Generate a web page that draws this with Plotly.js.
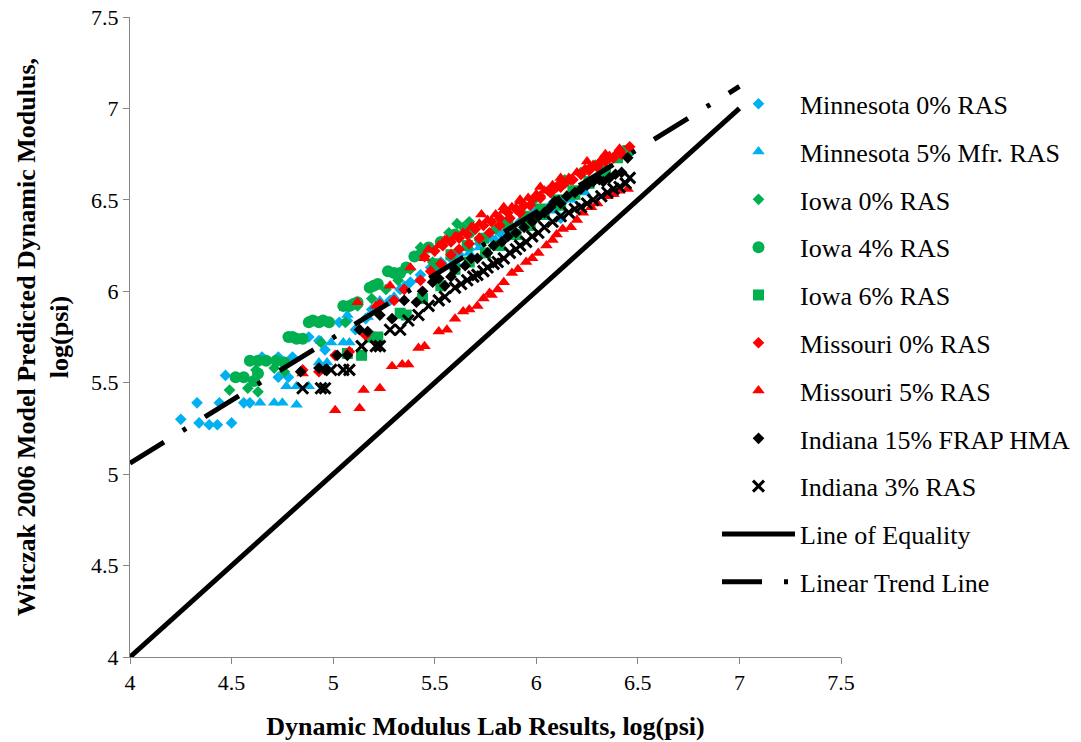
<!DOCTYPE html>
<html>
<head>
<meta charset="utf-8">
<script src="https://cdn.plot.ly/plotly-3.0.1.min.js"></script>
<style>html,body{margin:0;padding:0;background:#fff;}#chart{width:1081px;height:742px;}</style>
</head>
<body>
<div id="chart"></div>
<script>
// ---- Data ----
const seriesNames = ["Minnesota 0% RAS","Minnesota 5% Mfr. RAS","Iowa 0% RAS","Iowa 4% RAS","Iowa 6% RAS","Missouri 0% RAS","Missouri 5% RAS","Indiana 15% FRAP HMA","Indiana 3% RAS"];

const mn0X = [4.25,4.33,4.34,4.39,4.43,4.50,4.44,4.47,4.56,4.59,4.65,4.73,4.73,4.78,4.80,4.88,4.93,4.96,5.03,5.07,5.11,5.16,5.19,5.23,5.28,5.33,5.38,5.43,5.48,5.53,5.58,5.62,5.67,5.72,5.77,5.82,5.87,5.92,5.99,6.07,6.12,6.14];
const mn0Y = [5.30,5.39,5.28,5.27,5.27,5.28,5.39,5.54,5.39,5.39,5.64,5.64,5.53,5.53,5.64,5.75,5.73,5.68,5.83,5.84,5.79,5.85,5.90,5.92,5.95,6.01,6.05,6.09,6.13,6.16,6.18,6.20,6.23,6.26,6.30,6.32,6.35,6.38,6.43,6.47,6.40,6.50];

const mn5X = [4.64,4.71,4.75,4.82,4.77,4.82,4.88,4.93,4.97,4.99,5.05,5.08,4.94,5.07,5.17,5.23,5.30,5.35,5.42,5.50,5.55,5.60,5.67,5.72,5.80,5.87,5.94,6.02,6.09,6.17,6.24];
const mn5Y = [5.39,5.39,5.39,5.38,5.48,5.48,5.48,5.61,5.61,5.72,5.72,5.72,5.73,5.87,5.86,5.95,5.97,6.03,6.06,6.12,6.14,6.16,6.21,6.24,6.28,6.32,6.36,6.42,6.44,6.50,6.54];

const ia0X = [4.49,4.58,4.63,4.62,4.71,4.76,4.94,5.06,5.12,5.19,5.26,5.32,5.38,5.43,5.49,5.57,5.61,5.64,5.67,5.72,5.80,5.85,5.92,5.99,6.07,6.14,6.22,6.29,6.36,6.44];
const ia0Y = [5.46,5.47,5.45,5.57,5.58,5.56,5.72,5.83,5.92,5.96,6.01,6.06,6.12,6.24,6.16,6.32,6.37,6.35,6.38,6.28,6.34,6.38,6.44,6.50,6.55,6.61,6.65,6.69,6.73,6.77];

const ia4X = [4.52,4.56,4.61,4.59,4.63,4.67,4.76,4.78,4.82,4.85,4.88,4.93,4.98,5.05,5.08,5.18,5.22,5.27,5.33,5.40,5.47,5.53,5.60,5.67,
              5.10,5.12,4.90,4.95,4.72,4.63,4.80,5.20,5.30,5.36,5.43];
const ia4Y = [5.53,5.53,5.51,5.62,5.62,5.62,5.61,5.75,5.74,5.74,5.83,5.83,5.83,5.92,5.92,6.02,6.04,6.11,6.10,6.19,6.24,6.27,6.31,6.32,
              5.93,5.94,5.84,5.84,5.62,5.55,5.75,6.03,6.10,6.13,6.20];

const ia6X = [5.07,5.14,5.18,5.22,5.33,5.36,5.44,5.53,5.60,5.67,5.75,5.82,5.90,5.97,6.04,6.12,6.19,6.26,6.34,6.40,6.45,
              5.50,5.58,5.66,5.74,5.86,5.94,6.02,6.10,6.18,6.26,6.34];
const ia6Y = [5.66,5.65,5.75,5.75,5.88,5.87,5.96,6.03,6.12,6.16,6.21,6.25,6.31,6.36,6.42,6.47,6.53,6.60,6.66,6.73,6.77,
              6.15,6.20,6.25,6.29,6.36,6.41,6.45,6.50,6.55,6.59,6.64];

const mo0X = [4.85,4.93,5.01,5.08,5.16,5.23,5.30,5.35,5.43,5.48,5.53,5.58,5.62,5.67,5.72,5.77,5.82,5.87,5.92,5.97,6.02,6.07,6.12,6.17,6.22,6.26,6.31,6.36,6.41,6.46,
              5.45,5.50,5.54,5.58,5.62,5.66,5.70,5.74,5.78,5.82,5.86,5.90,5.94,5.98,6.02,6.06,6.10,6.14,6.18,6.22,6.26,6.30,6.34,6.38,6.42];
const mo0Y = [5.57,5.56,5.65,5.67,5.76,5.93,5.95,6.01,6.06,6.11,6.15,6.20,6.23,6.26,6.29,6.32,6.36,6.40,6.43,6.47,6.51,6.54,6.57,6.61,6.64,6.67,6.70,6.73,6.77,6.79,
              6.19,6.22,6.25,6.27,6.29,6.31,6.34,6.36,6.38,6.40,6.43,6.45,6.47,6.50,6.52,6.55,6.57,6.59,6.61,6.64,6.66,6.68,6.71,6.73,6.75];

const mo5X = [5.01,5.13,5.15,5.23,5.29,5.34,5.37,5.42,5.45,5.52,5.56,5.64,5.67,5.71,5.74,5.77,5.81,5.84,5.88,5.95,6.01,6.08,6.13,6.17,6.23,6.30,6.35,6.41,6.45,
              5.60,5.78,5.91,5.98,6.05,6.10,6.20,6.27,6.38,
              4.85,5.12,5.21,5.28,5.38,5.45,5.55,5.61,5.69,5.73,5.84,5.92,6.02,6.12,6.25,6.34,6.41,
              5.47,5.52,5.56,5.60,5.64,5.68,5.72,5.76,5.80,5.84,5.88,5.92,5.96,6.00,6.04,6.08,6.12,6.16,6.20,6.24,6.28,6.32,6.36,6.40];
const mo5Y = [5.35,5.36,5.46,5.47,5.59,5.60,5.60,5.69,5.70,5.78,5.79,5.89,5.90,5.92,5.96,5.99,6.01,6.05,6.10,6.16,6.21,6.28,6.34,6.35,6.43,6.48,6.52,6.55,6.56,
              5.85,5.98,6.12,6.18,6.25,6.31,6.39,6.46,6.53,
              5.55,5.94,5.92,6.03,6.13,6.18,6.28,6.30,6.35,6.42,6.46,6.50,6.57,6.62,6.71,6.75,6.78,
              6.23,6.25,6.28,6.30,6.32,6.35,6.37,6.39,6.42,6.44,6.46,6.49,6.51,6.53,6.55,6.58,6.60,6.62,6.65,6.67,6.69,6.72,6.74,6.76];

const in15X = [4.84,4.93,4.96,5.02,5.07,5.13,5.17,5.23,5.29,5.35,5.41,5.49,5.55,5.60,5.65,5.71,5.76,5.83,5.90,5.98,6.04,6.09,6.15,6.19,6.25,6.31,6.36,6.42,6.45,
               5.44,5.52,5.58,5.68,5.79,5.86,5.94,6.01,6.07,6.12,6.22,6.28,6.33,6.39];
const in15Y = [5.56,5.58,5.57,5.65,5.65,5.79,5.78,5.87,5.85,5.95,5.94,6.05,6.03,6.12,6.14,6.18,6.21,6.27,6.32,6.38,6.43,6.49,6.52,6.54,6.58,6.61,6.62,6.65,6.73,
               6.00,6.07,6.08,6.18,6.25,6.30,6.35,6.41,6.46,6.48,6.56,6.60,6.60,6.64];

const in3X = [4.85,4.94,4.96,4.99,5.05,5.08,5.14,5.21,5.23,5.28,5.33,5.42,5.55,5.60,5.66,5.71,5.76,5.81,5.87,5.92,5.98,6.04,6.12,6.22,6.28,6.35,6.41,6.46,
              5.37,5.47,5.52,5.63,5.69,5.74,5.79,5.84,5.90,5.95,6.01,6.08,6.16,6.19,6.25,6.32,6.38,6.44];
const in3Y = [5.47,5.47,5.47,5.57,5.57,5.57,5.70,5.70,5.70,5.79,5.79,5.87,5.97,6.02,6.06,6.09,6.13,6.16,6.21,6.25,6.30,6.35,6.41,6.46,6.50,6.54,6.57,6.62,
              5.84,5.92,5.95,6.04,6.08,6.11,6.15,6.18,6.23,6.27,6.32,6.38,6.43,6.45,6.48,6.52,6.56,6.59];

const equalityX = [4, 7];
const equalityY = [4, 7];
const trendX = [4, 7];
const trendY = [5.06, 7.12];

const tickVals = [4, 4.5, 5, 5.5, 6, 6.5, 7, 7.5];
const tickText = ["4","4.5","5","5.5","6","6.5","7","7.5"];

// ---- Styles ----
const FONT = "Liberation Serif, 'Times New Roman', Times, serif";
const BLUE = "#00B0F0", GREEN = "#00B050", RED = "#FF0000", BLACK = "#000000";

function pts(name, x, y, symbol, color, size, extra) {
  const m = Object.assign({symbol: symbol, color: color, size: size, line: {width: 0}}, extra || {});
  return {type: "scatter", mode: "markers", name: name, x: x, y: y, marker: m, legendgroup: name, hoverinfo: "skip"};
}

const traces = [
  pts(seriesNames[0], mn0X, mn0Y, "diamond", BLUE, 9),
  pts(seriesNames[1], mn5X, mn5Y, "triangle-up", BLUE, 11),
  pts(seriesNames[2], ia0X, ia0Y, "diamond", GREEN, 9),
  pts(seriesNames[3], ia4X, ia4Y, "circle", GREEN, 12),
  pts(seriesNames[4], ia6X, ia6Y, "square", GREEN, 11),
  pts(seriesNames[5], mo0X, mo0Y, "diamond", RED, 9),
  pts(seriesNames[6], mo5X, mo5Y, "triangle-up", RED, 11),
  pts(seriesNames[7], in15X, in15Y, "diamond", BLACK, 9),
  pts(seriesNames[8], in3X, in3Y, "x-thin-open", BLACK, 11, {line: {width: 3, color: BLACK}}),
  {type: "scatter", mode: "lines", name: "Line of Equality", x: equalityX, y: equalityY,
   line: {color: BLACK, width: 5}, legendgroup: "eq", hoverinfo: "skip"},
  {type: "scatter", mode: "lines", name: "Linear Trend Line", x: trendX, y: trendY,
   line: {color: BLACK, width: 5, dash: "40px,22px,4px,22px"}, legendgroup: "tr", hoverinfo: "skip"}
];

const axisCommon = {
  range: [4, 7.5], tickvals: tickVals, ticktext: tickText,
  showgrid: false, zeroline: false, showline: true, linecolor: "#868686", linewidth: 1,
  ticks: "outside", ticklen: 6, tickcolor: "#868686", tickwidth: 1,
  tickfont: {family: FONT, size: 22, color: BLACK}, fixedrange: true
};

const layout = {
  width: 1081, height: 742,
  margin: {l: 130, r: 240, t: 17, b: 85, autoexpand: false},
  paper_bgcolor: "#ffffff", plot_bgcolor: "#ffffff",
  font: {family: FONT, color: BLACK},
  showlegend: true,
  xaxis: Object.assign({}, axisCommon, {
    title: {text: "Dynamic Modulus Lab Results, log(psi)", font: {family: FONT, size: 26, color: BLACK, weight: "bold"}, standoff: 22}
  }),
  yaxis: Object.assign({}, axisCommon, {
    title: {text: "Witczak 2006 Model Predicted Dynamic Modulus,<br>log(psi)", font: {family: FONT, size: 26, color: BLACK, weight: "bold"}, standoff: 14}
  }),
  legend: {
    x: 0.8256, xanchor: "left", y: 0.901, yanchor: "top",
    font: {family: FONT, size: 26, color: BLACK},
    bgcolor: "rgba(0,0,0,0)", borderwidth: 0,
    itemwidth: 73, tracegroupgap: 11, traceorder: "grouped"
  },
  hovermode: false
};

Plotly.newPlot("chart", traces, layout, {displayModeBar: false, staticPlot: true});
</script>
</body>
</html>
